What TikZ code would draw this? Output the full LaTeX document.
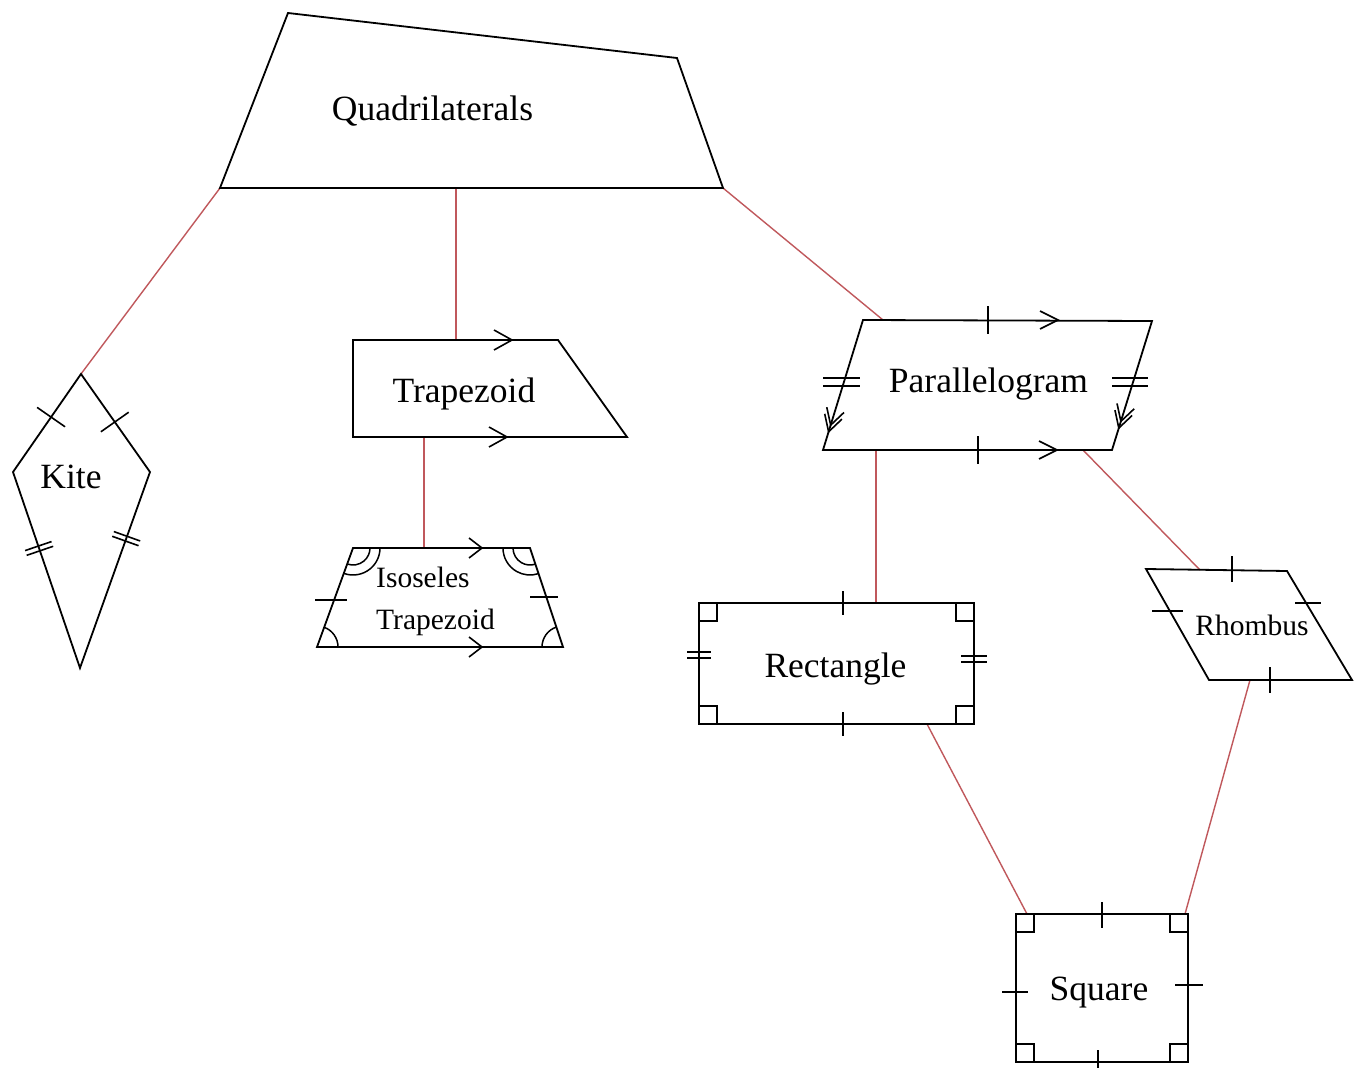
\documentclass[tikz,border=0pt]{standalone}
\usepackage{fontspec}
\setmainfont{Liberation Serif}
\usetikzlibrary{decorations.markings,angles,calc}
\definecolor{linkred}{RGB}{192,88,92}
\tikzset{
  shapeline/.style={black, line width=1.8pt, line join=miter},
  mk/.style={black, line width=1.6pt},
  link/.style={linkred, line width=1.4pt},
  bigtext/.style={font=\fontsize{35.5pt}{40pt}\selectfont, inner sep=0pt, anchor=base},
  smalltext/.style={font=\fontsize{29.5pt}{34pt}\selectfont, inner sep=0pt},
  tkone/.style={postaction={decorate,decoration={markings,
      mark=at position #1 with {\draw[mk] (0,-17pt)--(0,17pt);}}}},
  tktwo/.style={postaction={decorate,decoration={markings,
      mark=at position #1 with {\draw[mk] (-2.5pt,-14pt)--(-2.5pt,14pt) (2.5pt,-14pt)--(2.5pt,14pt);}}}},
  dchev/.style={postaction={decorate,decoration={markings,
      mark=at position #1 with {\draw[mk] (-16pt,9pt)--(0,0)--(-16pt,-9pt) (-23pt,9pt)--(-7pt,0)--(-23pt,-9pt);}}}},
  angarc/.style={draw, black, line width=1.5pt},
}
\begin{document}
\begin{tikzpicture}[x=1pt,y=-1pt]
\fill[white] (0,0) rectangle (1361,1068);
\useasboundingbox (0,0) rectangle (1361,1068);

% ---------- coordinates ----------
% Quadrilateral
\coordinate (q1) at (288,13);
\coordinate (q2) at (677,58);
\coordinate (q3) at (723,188);
\coordinate (q4) at (220,188);
\coordinate (qm) at (456,188);
% Kite
\coordinate (kt) at (81,374);
\coordinate (kl) at (13,472);
\coordinate (kr) at (150,472);
\coordinate (kb) at (80,668);
% Trapezoid
\coordinate (t1) at (353,340);
\coordinate (t2) at (558,340);
\coordinate (t3) at (627,437);
\coordinate (t4) at (353,437);
\coordinate (ttop) at (456,340);
\coordinate (tbot) at (424,437);
% Isosceles trapezoid
\coordinate (i1) at (353,548);
\coordinate (i2) at (530,548);
\coordinate (i3) at (563,647);
\coordinate (i4) at (317,647);
\coordinate (itop) at (424,548);
% Parallelogram
\coordinate (p1) at (863,320);
\coordinate (p2) at (1152,321);
\coordinate (p3) at (1112,450);
\coordinate (p4) at (823,450);
\coordinate (ptop) at (883,320);
\coordinate (pbl) at (876,450);
\coordinate (pbr) at (1083,450);
% Rectangle
\coordinate (r1) at (699,603);
\coordinate (r2) at (974,603);
\coordinate (r3) at (974,724);
\coordinate (r4) at (699,724);
\coordinate (rtop) at (876,603);
\coordinate (rbot) at (927,724);
% Rhombus
\coordinate (h1) at (1146,569);
\coordinate (h2) at (1287,571);
\coordinate (h3) at (1352,680);
\coordinate (h4) at (1209,680);
\coordinate (htop) at (1200,570);
\coordinate (hbot) at (1250,680);
% Square
\coordinate (s1) at (1016,914);
\coordinate (s2) at (1188,914);
\coordinate (s3) at (1188,1062);
\coordinate (s4) at (1016,1062);
\coordinate (stl) at (1027,914);
\coordinate (str) at (1185,914);

% ---------- connectors ----------
\draw[link] (q4) -- (kt);
\draw[link] (qm) -- (ttop);
\draw[link] (q3) -- (ptop);
\draw[link] (tbot) -- (itop);
\draw[link] (pbl) -- (rtop);
\draw[link] (pbr) -- (htop);
\draw[link] (rbot) -- (stl);
\draw[link] (hbot) -- (str);

% ---------- shapes ----------
\draw[shapeline] (q1) -- (q2) -- (q3) -- (q4) -- cycle;
\draw[shapeline] (kt) -- (kr) -- (kb) -- (kl) -- cycle;
\draw[shapeline] (t1) -- (t2) -- (t3) -- (t4) -- cycle;
\draw[shapeline] (i1) -- (i2) -- (i3) -- (i4) -- cycle;
\draw[shapeline] (p1) -- (p2) -- (p3) -- (p4) -- cycle;
\draw[shapeline] (r1) -- (r2) -- (r3) -- (r4) -- cycle;
\draw[shapeline] (h1) -- (h2) -- (h3) -- (h4) -- cycle;
\draw[shapeline] (s1) -- (s2) -- (s3) -- (s4) -- cycle;

% ---------- kite marks ----------
\path[tkone=0.44] (kt) -- (kl);
\path[tkone=0.49] (kt) -- (kr);
\path[tktwo=0.39] (kl) -- (kb);
\path[tktwo=0.34] (kr) -- (kb);

% ---------- trapezoid marks ----------
\draw[mk] (494,330) -- (512,340) -- (494,350);
\draw[mk] (489,427) -- (507,437) -- (489,447);

% ---------- isosceles trapezoid marks ----------
\draw[mk] (469,538) -- (482,548) -- (469,558);
\draw[mk] (469,637) -- (482,647) -- (469,657);
\draw[mk] (315,600) -- (347,600);
\draw[mk] (530,597) -- (558,597);
\pic[angarc, angle radius=17pt] {angle = i4--i1--i2};
\pic[angarc, angle radius=27pt] {angle = i4--i1--i2};
\pic[angarc, angle radius=17pt] {angle = i1--i2--i3};
\pic[angarc, angle radius=27pt] {angle = i1--i2--i3};
\pic[angarc, angle radius=21pt] {angle = i2--i3--i4};
\pic[angarc, angle radius=21pt] {angle = i3--i4--i1};

% ---------- parallelogram marks ----------
\draw[mk] (988,306) -- (988,334);
\draw[mk] (1040,311) -- (1058,320) -- (1040,329);
\draw[mk] (978,436) -- (978,464);
\draw[mk] (1039,441) -- (1057,450) -- (1039,459);
\draw[mk] (823,378) -- (860,378) (823,386) -- (860,386);
\draw[mk] (1112,378) -- (1148,378) (1112,386) -- (1148,386);
\path[dchev=0.86] (p1) -- (p4);
\path[dchev=0.83] (p2) -- (p3);

% ---------- rectangle marks ----------
\draw[mk] (r1) rectangle ++(18,18);
\draw[mk] (r2) rectangle ++(-18,18);
\draw[mk] (r3) rectangle ++(-18,-18);
\draw[mk] (r4) rectangle ++(18,-18);
\draw[mk] (843,591) -- (843,615);
\draw[mk] (843,712) -- (843,736);
\draw[mk] (687,652) -- (711,652) (687,658) -- (711,658);
\draw[mk] (961,656) -- (987,656) (961,662) -- (987,662);

% ---------- rhombus marks ----------
\draw[mk] (1232,556) -- (1232,582);
\draw[mk] (1270,667) -- (1270,693);
\draw[mk] (1152,611) -- (1183,611);
\draw[mk] (1295,603) -- (1321,603);

% ---------- square marks ----------
\draw[mk] (s1) rectangle ++(18,18);
\draw[mk] (s2) rectangle ++(-18,18);
\draw[mk] (s3) rectangle ++(-18,-18);
\draw[mk] (s4) rectangle ++(18,-18);
\draw[mk] (1102,902) -- (1102,928);
\draw[mk] (1098,1050) -- (1098,1072);
\draw[mk] (1002,992) -- (1028,992);
\draw[mk] (1175,985) -- (1203,985);

% ---------- labels ----------
\node[bigtext] (quadlabel) at (432.5,120) {Quadrilaterals};
\node[bigtext] (kitelabel) at (71,488) {Kite};
\node[bigtext] (traplabel) at (464,402) {Trapezoid};
\node[bigtext] (paralabel) at (988.5,392) {Parallelogram};
\node[bigtext] (rectlabel) at (835.5,677) {Rectangle};
\node[bigtext] (sqlabel) at (1099,1000) {Square};
\node[smalltext, anchor=base] (rhlabel) at (1252,635) {Rhombus};
\node[smalltext, anchor=base west] (isolabelA) at (376,587) {Isoseles};
\node[smalltext, anchor=base west] (isolabelB) at (376,629) {Trapezoid};
\end{tikzpicture}
\end{document}
